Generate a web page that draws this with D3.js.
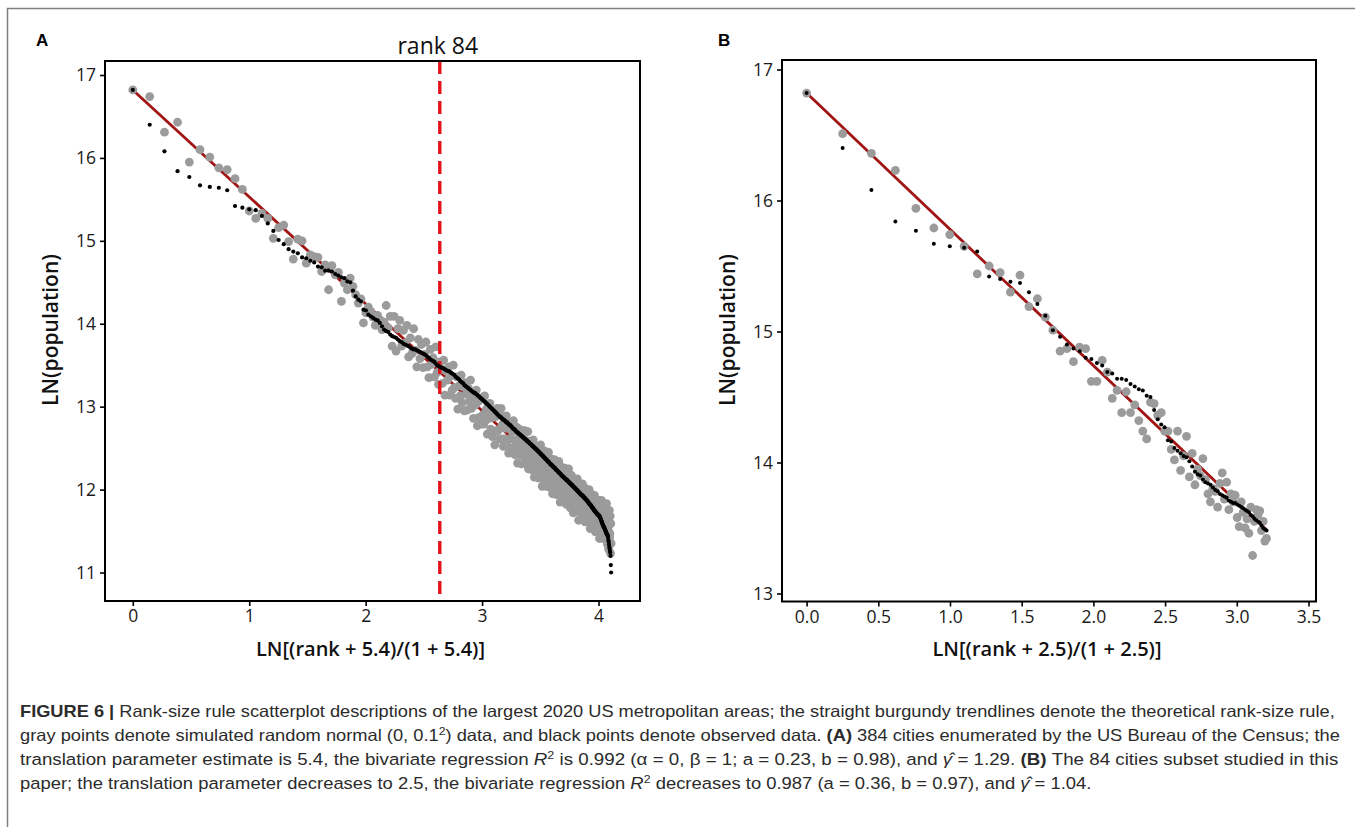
<!DOCTYPE html>
<html>
<head>
<meta charset="utf-8">
<script src="https://d3js.org/d3.v7.min.js"></script>
<style>
  body { margin: 0; background: #fff; }
  .plot text { font-family: "Open Sans", "Noto Sans", sans-serif; }
  .caption text { font-family: "Liberation Sans Narrow", "Liberation Sans", Arial, sans-serif; }
</style>
</head>
<body>
<svg id="chart" width="1355" height="827"></svg>
<script>
// observed LN(population) of the 2020 US metro areas, ordered by rank (1..384)
const observedLn = [
  16.82,16.40,16.08,15.84,15.77,15.67,15.65,15.64,15.61,15.42,
  15.40,15.38,15.37,15.30,15.21,15.12,15.01,14.96,14.90,14.87,
  14.85,14.80,14.79,14.76,14.74,14.69,14.68,14.64,14.64,14.63,
  14.60,14.58,14.56,14.55,14.51,14.50,14.40,14.33,14.29,14.27,
  14.17,14.16,14.11,14.09,14.07,14.05,14.04,14.01,13.97,13.93,
  13.91,13.90,13.87,13.85,13.84,13.83,13.81,13.79,13.78,13.76,
  13.75,13.74,13.73,13.71,13.70,13.69,13.69,13.68,13.67,13.66,
  13.65,13.64,13.63,13.62,13.60,13.59,13.57,13.56,13.55,13.54,
  13.52,13.50,13.49,13.48,
  13.47,13.47,13.46,13.45,13.44,13.43,13.43,13.42,13.41,13.40,13.39,
  13.38,13.36,13.35,13.34,13.33,13.31,13.30,13.29,13.28,13.26,13.25,13.24,
  13.23,13.22,13.21,13.20,13.19,13.18,13.17,13.17,13.16,13.15,13.14,13.13,13.12,13.11,13.10,13.09,13.08,
  13.07,13.06,13.05,13.04,13.03,13.02,13.01,13.00,12.99,12.98,12.97,12.96,12.95,12.94,12.93,12.92,12.91,12.90,12.89,12.88,
  12.87,12.87,12.86,12.85,12.84,12.84,12.83,12.82,12.81,12.81,12.80,
  12.79,12.78,12.78,12.77,12.76,12.75,12.74,12.73,12.73,12.72,12.71,12.70,
  12.69,12.69,12.68,12.67,12.67,12.66,12.65,12.65,12.64,12.63,12.63,12.62,12.61,12.61,12.60,12.59,12.59,12.58,12.57,12.57,12.56,12.55,12.55,12.54,12.53,12.53,12.52,
  12.51,12.51,12.50,12.49,12.49,12.48,12.47,12.47,12.46,12.45,12.45,12.44,12.43,12.43,12.42,12.41,12.41,12.40,12.39,12.39,12.38,12.37,12.37,12.36,12.35,12.35,12.34,12.33,12.33,12.32,
  12.31,12.31,12.30,12.30,12.29,12.28,12.28,12.27,12.27,12.26,12.26,12.25,12.24,12.24,12.23,12.23,12.22,12.21,12.21,12.20,12.20,12.19,12.19,12.18,12.17,12.17,12.16,12.16,12.15,12.15,12.14,12.14,12.13,12.13,12.12,
  12.12,12.11,12.11,12.10,12.10,12.09,12.09,12.08,12.08,12.07,12.07,12.06,12.06,12.05,12.05,12.04,12.04,12.03,12.03,12.02,12.02,12.01,12.01,12.00,12.00,11.99,11.99,11.98,11.98,11.97,11.97,11.96,11.96,11.95,11.95,11.94,11.94,11.93,11.93,11.93,11.92,11.92,
  11.91,11.91,11.90,11.90,11.89,11.89,11.88,11.88,11.87,11.87,11.86,11.86,11.85,11.84,11.84,11.83,11.83,11.82,11.82,11.81,11.81,11.80,11.79,11.79,11.78,11.78,11.77,11.77,11.76,11.75,11.75,11.74,11.74,11.73,11.73,11.72,11.72,11.71,11.71,11.70,11.70,11.69,11.69,11.69,11.68,11.68,
  11.67,11.66,11.65,11.64,11.63,11.62,11.61,11.60,11.59,11.58,11.57,11.56,11.55,11.55,11.54,11.53,11.52,11.51,11.50,11.49,11.48,11.47,11.46,11.46,11.45,11.44,
  11.42,11.39,11.37,11.34,11.31,11.29,11.26,11.24,11.20,11.09,11.00
];

// simulated random normal points, panel A (by rank 1..384)
const simulatedA = [
  16.82,16.74,16.31,16.43,15.95,16.10,16.01,15.88,15.86,15.75,15.62,
  15.36,15.27,15.33,15.27,15.03,15.16,15.19,14.99,14.78,15.02,15.00,14.73,14.83,14.81,14.80,14.63,14.71,14.41,14.70,
  14.59,14.62,14.27,14.49,14.41,14.55,14.45,14.35,14.25,14.30,14.01,14.13,14.20,14.15,14.08,13.98,14.10,14.05,13.93,14.02,
  14.22,13.95,14.09,13.73,14.09,13.67,13.94,14.04,13.73,13.92,
  13.77,13.98,13.60,13.83,13.64,13.94,13.68,13.48,13.81,13.58,
  13.75,13.47,13.63,13.78,13.48,13.35,13.69,13.51,13.59,13.36,
  13.72,13.41,13.27,13.54,13.45,13.28,13.56,13.14,13.43,13.32,
  13.48,13.14,13.37,13.20,13.50,13.23,13.10,13.36,12.97,13.25,
  13.13,13.38,13.05,13.24,12.95,13.29,13.15,12.96,13.22,13.06,
  13.32,12.98,13.11,12.86,13.14,13.02,13.20,12.77,13.06,12.87,
  13.09,12.79,13.11,12.90,12.79,13.13,12.83,12.97,12.67,13.03,
  12.86,13.04,12.73,12.94,12.64,12.87,12.95,12.54,12.88,12.71,
  12.98,12.71,12.61,12.91,12.74,12.98,12.61,12.79,12.52,12.83,
  12.61,12.74,12.89,12.53,12.77,12.44,12.81,12.61,12.76,12.47,
  12.70,12.50,12.83,12.60,12.42,12.71,12.51,12.75,12.32,12.60,
  12.42,12.66,12.50,12.72,12.31,12.58,12.65,12.41,12.33,12.71,
  12.51,12.32,12.59,12.41,12.70,12.25,12.48,12.33,12.58,12.40,
  12.24,12.50,12.31,12.60,12.37,12.15,12.52,12.43,12.23,12.47,
  12.52,12.29,12.14,12.44,12.36,12.19,12.54,12.24,12.36,12.04,
  12.41,12.27,12.47,12.12,12.34,12.17,12.40,12.04,12.28,12.33,
  12.11,12.45,12.18,12.03,12.32,12.15,12.37,12.06,12.22,11.95,
  12.32,12.08,12.23,12.36,11.99,12.24,12.13,11.94,12.29,12.08,
  12.17,11.99,12.34,12.04,12.22,11.85,12.16,12.08,12.27,11.97,
  12.03,12.21,11.88,12.16,11.95,12.26,12.02,11.88,12.10,11.82,
  12.19,11.95,12.05,11.84,12.25,11.88,12.08,11.95,11.78,12.10,
  11.88,12.17,11.95,11.83,12.02,11.72,12.08,11.97,11.83,12.12,
  11.74,11.98,12.07,11.86,11.76,12.13,11.81,11.93,11.63,12.00,
  11.97,11.76,12.06,11.85,11.66,11.98,11.87,11.72,12.07,11.77,
  11.98,11.67,11.90,11.74,12.02,11.61,11.88,11.92,11.68,11.83,
  11.75,11.96,11.61,11.88,11.76,11.66,12.00,11.70,11.89,11.53,
  11.95,11.72,11.79,11.60,11.88,11.65,11.53,11.88,11.72,11.79,
  11.59,11.93,11.64,11.77,11.49,11.81,11.86,11.59,11.67,11.82,
  11.51,11.75,11.63,11.87,11.55,11.69,11.41,11.81,11.74,11.56,
  11.76,11.46,11.87,11.58,11.67,11.50,11.73,11.41,11.81,11.59,
  11.51,11.76,11.59,11.40,11.79,11.52,11.65,11.43,11.83,11.46,
  11.64,11.34,11.74,11.52,11.68,11.28,11.58,11.75,11.42,11.47,
  11.68,11.23,11.59,11.35
];

// simulated random normal points, panel B (84 cities subset)
const simulatedB = [
  16.82,16.51,16.36,16.23,15.94,15.79,15.74,15.65,15.44,15.50,
  15.45,15.30,15.43,15.19,15.25,15.11,15.01,14.85,14.87,14.77,
  14.88,14.87,14.62,14.62,14.78,14.69,14.49,14.55,14.38,14.54,
  14.38,14.44,14.32,14.24,14.18,14.46,14.45,14.36,14.38,14.24,
  14.24,14.10,14.02,14.24,13.94,14.05,14.20,13.89,14.07,13.83,
  13.95,13.90,14.03,13.87,13.76,13.70,13.80,13.78,13.66,13.84,
  13.92,13.72,13.85,13.64,13.76,13.70,13.75,13.58,13.51,13.70,
  13.62,13.50,13.57,13.46,13.66,13.29,13.55,13.64,13.60,13.63,
  13.48,13.55,13.40,13.42
];

const shiftA = 5.4, shiftB = 2.5;       // translation parameters
const citiesB = 84;                      // subset size / rank cut-off
const trendIntercept = 16.82;
const trendSlopeA = 1.29, trendSlopeB = 1.04;
const xTicksA = [0, 1, 2, 3, 4];
const yTicksA = [11, 12, 13, 14, 15, 16, 17];
const xTicksB = [0, 0.5, 1, 1.5, 2, 2.5, 3, 3.5];
const yTicksB = [13, 14, 15, 16, 17];

if (observedLn.length !== 384 || simulatedA.length !== 384 || simulatedB.length !== 84) {
  console.warn('length check', observedLn.length, simulatedA.length, simulatedB.length);
}

const svg = d3.select('#chart');

// outer figure frame
svg.append('path')
  .attr('d', 'M7.5,840 L7.5,8.5 L1360,8.5')
  .attr('fill', 'none').attr('stroke', '#808080').attr('stroke-width', 1.5);

function lnRank(r, s) { return Math.log((r + s) / (1 + s)); }

function drawPanel(cfg) {
  const g = svg.append('g').attr('class', 'plot');
  const box = cfg.box;
  const x = d3.scaleLinear().domain(cfg.xTickSpan).range(cfg.xPix);
  const y = d3.scaleLinear().domain(cfg.yTickSpan).range(cfg.yPix);

  const obs = cfg.observed.map((v, i) => ({ x: lnRank(i + 1, cfg.shift), y: v }));
  const sim = cfg.simulated.map((v, i) => ({ x: lnRank(i + 1, cfg.shift), y: v }));
  const xMax = d3.max(obs, d => d.x);

  // theoretical rank-size trendline
  const line = d3.line().x(d => x(d)).y(d => y(trendIntercept - cfg.slope * d));
  g.append('path').datum([0, xMax])
    .attr('d', line)
    .attr('fill', 'none').attr('stroke', '#a11414').attr('stroke-width', 2.8);

  g.append('g').selectAll('circle').data(sim).join('circle')
    .attr('cx', d => x(d.x)).attr('cy', d => y(d.y))
    .attr('r', cfg.grayR).attr('fill', '#9b9b9b');

  if (cfg.cut) {
    const xc = x(lnRank(cfg.cut, cfg.shift));
    g.append('line')
      .attr('x1', xc).attr('x2', xc).attr('y1', box.y0).attr('y2', box.y1)
      .attr('stroke', '#e3121b').attr('stroke-width', 3.4)
      .attr('stroke-dasharray', '13,7');
    g.append('text').attr('x', xc - 2).attr('y', 54)
      .attr('text-anchor', 'middle').attr('font-size', 23).attr('fill', '#111')
      .text('rank ' + cfg.cut);
  }

  g.append('g').selectAll('circle').data(obs).join('circle')
    .attr('cx', d => x(d.x)).attr('cy', d => y(d.y))
    .attr('r', cfg.blackR).attr('fill', '#000');

  // axes
  const ax = g.append('g').attr('transform', `translate(0,${box.y1})`)
    .call(d3.axisBottom(x).tickValues(cfg.xTicks).tickSize(5).tickPadding(4).tickFormat(cfg.xFmt));
  const ay = g.append('g').attr('transform', `translate(${box.x0},0)`)
    .call(d3.axisLeft(y).tickValues(cfg.yTicks).tickSize(5).tickPadding(4).tickFormat(d3.format('d')));
  [ax, ay].forEach(a => {
    a.select('.domain').remove();
    a.selectAll('line').attr('stroke', '#000').attr('stroke-width', 1.6);
    a.selectAll('text').attr('font-size', 17.5).attr('fill', '#1a1a1a');
  });

  g.append('rect')
    .attr('x', box.x0).attr('y', box.y0)
    .attr('width', box.x1 - box.x0).attr('height', box.y1 - box.y0)
    .attr('fill', 'none').attr('stroke', '#000').attr('stroke-width', 2);

  // axis titles
  g.append('text')
    .attr('x', (box.x0 + box.x1) / 2 - 2).attr('y', 656)
    .attr('text-anchor', 'middle').attr('font-size', 20).attr('font-weight', 600)
    .attr('fill', '#111').text(cfg.xTitle);
  g.append('text')
    .attr('transform', `translate(${cfg.yTitleX},330) rotate(-90)`)
    .attr('text-anchor', 'middle').attr('font-size', 21).attr('font-weight', 600)
    .attr('fill', '#111').text('LN(population)');

  // panel letter
  g.append('text').attr('x', cfg.letterX).attr('y', 46)
    .style('font-family', '"Liberation Sans", Arial, sans-serif')
    .attr('font-size', 17).attr('font-weight', 'bold').attr('fill', '#000')
    .text(cfg.letter);
}

drawPanel({
  letter: 'A', letterX: 36,
  box: { x0: 105, x1: 640, y0: 61, y1: 601 },
  xTickSpan: [0, 4], xPix: [132.8, 598.5],
  yTickSpan: [11, 17], yPix: [572.5, 75],
  xTicks: xTicksA, yTicks: yTicksA, xFmt: d3.format('d'),
  observed: observedLn, simulated: simulatedA,
  shift: shiftA, slope: trendSlopeA, cut: citiesB,
  grayR: 4.4, blackR: 2.1,
  xTitle: 'LN[(rank + 5.4)/(1 + 5.4)]', yTitleX: 58
});

drawPanel({
  letter: 'B', letterX: 718,
  box: { x0: 782, x1: 1316, y0: 60, y1: 601.5 },
  xTickSpan: [0, 3.5], xPix: [806.6, 1308.5],
  yTickSpan: [13, 17], yPix: [593.5, 69.5],
  xTicks: xTicksB, yTicks: yTicksB, xFmt: d3.format('.1f'),
  observed: observedLn.slice(0, citiesB), simulated: simulatedB,
  shift: shiftB, slope: trendSlopeB, cut: null,
  grayR: 4.4, blackR: 2.0,
  xTitle: 'LN[(rank + 2.5)/(1 + 2.5)]', yTitleX: 735
});

// caption
const captionLines = [
  [['FIGURE 6 |', 'b'], [' Rank-size rule scatterplot descriptions of the largest 2020 US metropolitan areas; the straight burgundy trendlines denote the theoretical rank-size rule,']],
  [['gray points denote simulated random normal (0, 0.1'], ['2', 'sup'], [') data, and black points denote observed data. '], ['(A)', 'b'], [' 384 cities enumerated by the US Bureau of the Census; the']],
  [['translation parameter estimate is 5.4, the bivariate regression '], ['R', 'i'], ['2', 'sup'], [' is 0.992 (\u03b1 = 0, \u03b2 = 1; a = 0.23, b = 0.98), and '], ['\u03b3\u0302', 'i'], [' = 1.29. '], ['(B)', 'b'], [' The 84 cities subset studied in this']],
  [['paper; the translation parameter decreases to 2.5, the bivariate regression '], ['R', 'i'], ['2', 'sup'], [' decreases to 0.987 (a = 0.36, b = 0.97), and '], ['\u03b3\u0302', 'i'], [' = 1.04.']]
];
const captionEnds = [1336, 1341, 1339];   // right ends of the full-width lines
const capX = 20, capY0 = 717, capStep = 24;

const cap = svg.append('g').attr('class', 'caption');
const capTexts = captionLines.map(parts => {
  const t = cap.append('text').attr('x', 0).attr('y', 0)
    .attr('font-size', 16.5).attr('fill', '#2b2b2b');
  let raised = false;
  parts.forEach(([s, kind]) => {
    const ts = t.append('tspan').text(s);
    if (kind === 'b') ts.attr('font-weight', 'bold');
    if (kind === 'i') ts.attr('font-style', 'italic');
    if (kind === 'sup') { ts.attr('font-size', 11).attr('dy', -6); raised = true; }
    else if (raised) { ts.attr('dy', 6); raised = false; }
  });
  return t;
});
const ks = captionEnds.map((e, i) => (e - capX) / capTexts[i].node().getBBox().width);
const kMean = d3.mean(ks);
capTexts.forEach((t, i) => {
  const k = i < ks.length ? ks[i] : kMean;
  t.attr('transform', `translate(${capX},${capY0 + i * capStep}) scale(${k},1)`);
});
</script>
</body>
</html>
